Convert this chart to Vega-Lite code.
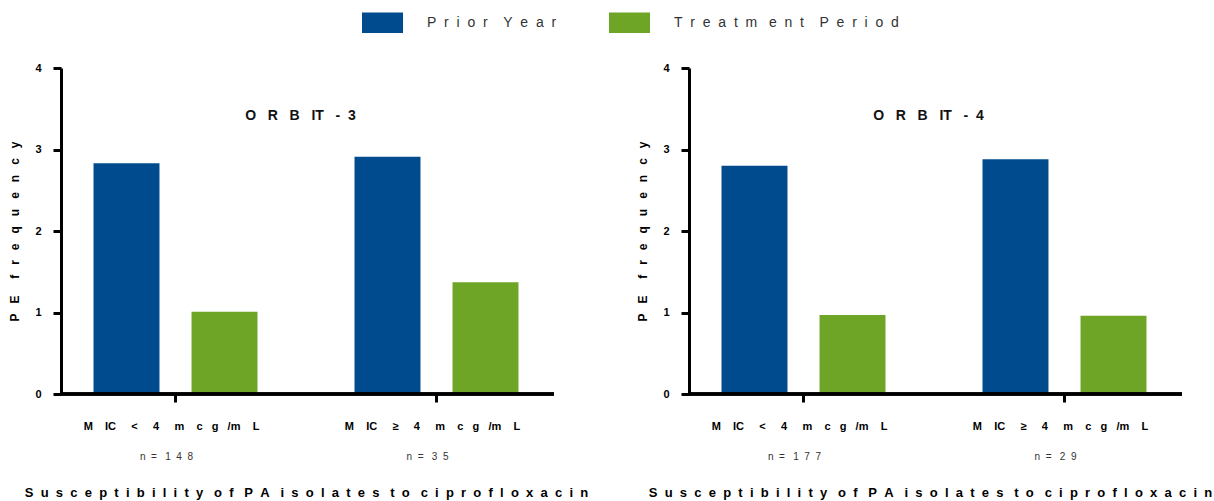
{
  "$schema": "https://vega.github.io/schema/vega-lite/v6.json",
  "background": "white",
  "padding": {"left": 8, "top": 2, "right": 5, "bottom": 5},
  "datasets": {
    "pe": [
      {"trial": "ORBIT-3", "mic": "MIC < 4 mcg/mL", "period": "Prior Year", "pe": 2.83, "n": 148},
      {"trial": "ORBIT-3", "mic": "MIC < 4 mcg/mL", "period": "Treatment Period", "pe": 1.01, "n": 148},
      {"trial": "ORBIT-3", "mic": "MIC ≥ 4 mcg/mL", "period": "Prior Year", "pe": 2.91, "n": 35},
      {"trial": "ORBIT-3", "mic": "MIC ≥ 4 mcg/mL", "period": "Treatment Period", "pe": 1.37, "n": 35},
      {"trial": "ORBIT-4", "mic": "MIC < 4 mcg/mL", "period": "Prior Year", "pe": 2.8, "n": 177},
      {"trial": "ORBIT-4", "mic": "MIC < 4 mcg/mL", "period": "Treatment Period", "pe": 0.97, "n": 177},
      {"trial": "ORBIT-4", "mic": "MIC ≥ 4 mcg/mL", "period": "Prior Year", "pe": 2.88, "n": 29},
      {"trial": "ORBIT-4", "mic": "MIC ≥ 4 mcg/mL", "period": "Treatment Period", "pe": 0.96, "n": 29}
    ]
  },
  "data": {"name": "pe"},
  "spacing": 135,
  "bounds": "flush",
  "resolve": {"scale": {"color": "shared"}, "legend": {"color": "shared"}},
  "hconcat": [
    {
      "width": 493,
      "height": 326,
      "title": {"text": "O\u00a0\u00a0\u00a0R\u00a0\u00a0\u00a0B\u00a0\u00a0\u00a0IT\u00a0\u00a0\u00a0-\u00a0\u00a03", "offset": -61, "dx": -7},
      "transform": [{"filter": "datum.trial === 'ORBIT-3'"}],
      "layer": [
        {
          "mark": {"type": "bar"},
          "encoding": {
            "x": {"field": "mic", "type": "nominal", "sort": ["MIC < 4 mcg/mL", "MIC ≥ 4 mcg/mL"],
                  "scale": {"paddingInner": 0, "paddingOuter": 0, "range": [-16, 506]},
                  "axis": {"domain": false,
                           "title": "S\u00a0\u00a0u\u00a0\u00a0s\u00a0\u00a0c\u00a0\u00a0e\u00a0\u00a0p\u00a0\u00a0t\u00a0\u00a0i\u00a0\u00a0b\u00a0\u00a0i\u00a0\u00a0l\u00a0\u00a0i\u00a0\u00a0t\u00a0\u00a0y\u00a0\u00a0\u00a0o\u00a0\u00a0f\u00a0\u00a0\u00a0P\u00a0\u00a0A\u00a0\u00a0\u00a0i\u00a0\u00a0s\u00a0\u00a0o\u00a0\u00a0l\u00a0\u00a0a\u00a0\u00a0t\u00a0\u00a0e\u00a0\u00a0s\u00a0\u00a0\u00a0t\u00a0\u00a0o\u00a0\u00a0\u00a0c\u00a0\u00a0i\u00a0\u00a0p\u00a0\u00a0r\u00a0\u00a0o\u00a0\u00a0f\u00a0\u00a0l\u00a0\u00a0o\u00a0\u00a0x\u00a0\u00a0a\u00a0\u00a0c\u00a0\u00a0i\u00a0\u00a0n",
                           "labelExpr": "datum.value === 'MIC < 4 mcg/mL' ? 'M\u00a0\u00a0\u00a0\u00a0IC\u00a0\u00a0\u00a0\u00a0\u00a0<\u00a0\u00a0\u00a0\u00a0\u00a04\u00a0\u00a0\u00a0\u00a0\u00a0m\u00a0\u00a0\u00a0\u00a0c\u00a0\u00a0\u00a0g\u00a0\u00a0\u00a0/m\u00a0\u00a0\u00a0\u00a0L' : 'M\u00a0\u00a0\u00a0\u00a0IC\u00a0\u00a0\u00a0\u00a0\u00a0≥\u00a0\u00a0\u00a0\u00a0\u00a04\u00a0\u00a0\u00a0\u00a0\u00a0m\u00a0\u00a0\u00a0\u00a0c\u00a0\u00a0\u00a0g\u00a0\u00a0\u00a0/m\u00a0\u00a0\u00a0\u00a0L'"}},
            "xOffset": {"field": "period", "type": "nominal", "sort": ["Prior Year", "Treatment Period"],
                        "scale": {"paddingInner": 0.327, "paddingOuter": 0.495}},
            "y": {"field": "pe", "type": "quantitative", "scale": {"domain": [0, 4], "nice": false},
                  "axis": {"title": "P\u00a0\u00a0\u00a0E\u00a0\u00a0\u00a0\u00a0\u00a0f\u00a0\u00a0\u00a0r\u00a0\u00a0\u00a0e\u00a0\u00a0\u00a0q\u00a0\u00a0\u00a0u\u00a0\u00a0\u00a0e\u00a0\u00a0\u00a0n\u00a0\u00a0\u00a0c\u00a0\u00a0\u00a0y",
                           "values": [0, 0.5, 1, 1.5, 2, 2.5, 3, 3.5, 4], "format": "d",
                           "labelExpr": "datum.value % 1 === 0 ? datum.label : ''",
                           "tickSize": {"condition": {"test": "datum.value % 1 !== 0", "value": 4}, "value": 8}}},
            "color": {"field": "period", "type": "nominal",
                      "scale": {"domain": ["Prior Year", "Treatment Period"], "range": ["#004B8E", "#6FA526"]},
                      "legend": {"orient": "none", "legendX": 301, "legendY": -66, "direction": "horizontal", "title": null,
                                 "symbolType": "M-1,-0.5H1V0.5H-1Z", "symbolSize": 1681, "symbolStrokeWidth": 0, "symbolOpacity": 1,
                                 "labelExpr": "datum.value === 'Prior Year' ? 'P\u00a0\u00a0r\u00a0\u00a0i\u00a0\u00a0o\u00a0\u00a0r\u00a0\u00a0\u00a0\u00a0Y\u00a0\u00a0e\u00a0\u00a0a\u00a0\u00a0r' : 'T\u00a0\u00a0r\u00a0\u00a0e\u00a0\u00a0a\u00a0\u00a0t\u00a0\u00a0m\u00a0\u00a0\u00a0e\u00a0\u00a0n\u00a0\u00a0t\u00a0\u00a0\u00a0\u00a0P\u00a0\u00a0e\u00a0\u00a0r\u00a0\u00a0i\u00a0\u00a0o\u00a0\u00a0d'",
                                 "labelFontSize": 14, "labelFont": "Liberation Sans", "labelColor": "#333333", "labelOffset": 24, "columnPadding": 52, "labelLimit": 400}}
          }
        },
        {
          "mark": {"type": "rule", "color": "#000000", "strokeWidth": 3},
          "encoding": {"y": {"datum": 0, "type": "quantitative"}}
        },
        {
          "transform": [
            {"filter": "datum.period === 'Prior Year'"},
            {"calculate": "'n\u00a0\u00a0=\u00a0\u00a0\u00a0' + join(split(toString(datum.n), ''), '\u00a0\u00a0')", "as": "nlabel"}
          ],
          "mark": {"type": "text", "font": "Liberation Sans", "fontSize": 10, "color": "#333333", "baseline": "middle", "dx": -9},
          "encoding": {
            "x": {"field": "mic", "type": "nominal", "sort": ["MIC < 4 mcg/mL", "MIC ≥ 4 mcg/mL"]},
            "y": {"datum": -0.77, "type": "quantitative"},
            "text": {"field": "nlabel"}
          }
        }
      ]
    },
    {
      "width": 493,
      "height": 326,
      "title": {"text": "O\u00a0\u00a0\u00a0R\u00a0\u00a0\u00a0B\u00a0\u00a0\u00a0IT\u00a0\u00a0\u00a0-\u00a0\u00a04", "offset": -61, "dx": -7},
      "transform": [{"filter": "datum.trial === 'ORBIT-4'"}],
      "layer": [
        {
          "mark": {"type": "bar"},
          "encoding": {
            "x": {"field": "mic", "type": "nominal", "sort": ["MIC < 4 mcg/mL", "MIC ≥ 4 mcg/mL"],
                  "scale": {"paddingInner": 0, "paddingOuter": 0, "range": [-16, 506]},
                  "axis": {"domain": false, "titleX": 241,
                           "title": "S\u00a0\u00a0u\u00a0\u00a0s\u00a0\u00a0c\u00a0\u00a0e\u00a0\u00a0p\u00a0\u00a0t\u00a0\u00a0i\u00a0\u00a0b\u00a0\u00a0i\u00a0\u00a0l\u00a0\u00a0i\u00a0\u00a0t\u00a0\u00a0y\u00a0\u00a0\u00a0o\u00a0\u00a0f\u00a0\u00a0\u00a0P\u00a0\u00a0A\u00a0\u00a0\u00a0i\u00a0\u00a0s\u00a0\u00a0o\u00a0\u00a0l\u00a0\u00a0a\u00a0\u00a0t\u00a0\u00a0e\u00a0\u00a0s\u00a0\u00a0\u00a0t\u00a0\u00a0o\u00a0\u00a0\u00a0c\u00a0\u00a0i\u00a0\u00a0p\u00a0\u00a0r\u00a0\u00a0o\u00a0\u00a0f\u00a0\u00a0l\u00a0\u00a0o\u00a0\u00a0x\u00a0\u00a0a\u00a0\u00a0c\u00a0\u00a0i\u00a0\u00a0n",
                           "labelExpr": "datum.value === 'MIC < 4 mcg/mL' ? 'M\u00a0\u00a0\u00a0\u00a0IC\u00a0\u00a0\u00a0\u00a0\u00a0<\u00a0\u00a0\u00a0\u00a0\u00a04\u00a0\u00a0\u00a0\u00a0\u00a0m\u00a0\u00a0\u00a0\u00a0c\u00a0\u00a0\u00a0g\u00a0\u00a0\u00a0/m\u00a0\u00a0\u00a0\u00a0L' : 'M\u00a0\u00a0\u00a0\u00a0IC\u00a0\u00a0\u00a0\u00a0\u00a0≥\u00a0\u00a0\u00a0\u00a0\u00a04\u00a0\u00a0\u00a0\u00a0\u00a0m\u00a0\u00a0\u00a0\u00a0c\u00a0\u00a0\u00a0g\u00a0\u00a0\u00a0/m\u00a0\u00a0\u00a0\u00a0L'"}},
            "xOffset": {"field": "period", "type": "nominal", "sort": ["Prior Year", "Treatment Period"],
                        "scale": {"paddingInner": 0.327, "paddingOuter": 0.495}},
            "y": {"field": "pe", "type": "quantitative", "scale": {"domain": [0, 4], "nice": false},
                  "axis": {"title": "P\u00a0\u00a0\u00a0E\u00a0\u00a0\u00a0\u00a0\u00a0f\u00a0\u00a0\u00a0r\u00a0\u00a0\u00a0e\u00a0\u00a0\u00a0q\u00a0\u00a0\u00a0u\u00a0\u00a0\u00a0e\u00a0\u00a0\u00a0n\u00a0\u00a0\u00a0c\u00a0\u00a0\u00a0y",
                           "values": [0, 0.5, 1, 1.5, 2, 2.5, 3, 3.5, 4], "format": "d",
                           "labelExpr": "datum.value % 1 === 0 ? datum.label : ''",
                           "tickSize": {"condition": {"test": "datum.value % 1 !== 0", "value": 4}, "value": 8}}},
            "color": {"field": "period", "type": "nominal",
                      "scale": {"domain": ["Prior Year", "Treatment Period"], "range": ["#004B8E", "#6FA526"]},
                      "legend": {"orient": "none", "legendX": 301, "legendY": -66, "direction": "horizontal", "title": null,
                                 "symbolType": "M-1,-0.5H1V0.5H-1Z", "symbolSize": 1681, "symbolStrokeWidth": 0, "symbolOpacity": 1,
                                 "labelExpr": "datum.value === 'Prior Year' ? 'P\u00a0\u00a0r\u00a0\u00a0i\u00a0\u00a0o\u00a0\u00a0r\u00a0\u00a0\u00a0\u00a0Y\u00a0\u00a0e\u00a0\u00a0a\u00a0\u00a0r' : 'T\u00a0\u00a0r\u00a0\u00a0e\u00a0\u00a0a\u00a0\u00a0t\u00a0\u00a0m\u00a0\u00a0\u00a0e\u00a0\u00a0n\u00a0\u00a0t\u00a0\u00a0\u00a0\u00a0P\u00a0\u00a0e\u00a0\u00a0r\u00a0\u00a0i\u00a0\u00a0o\u00a0\u00a0d'",
                                 "labelFontSize": 14, "labelFont": "Liberation Sans", "labelColor": "#333333", "labelOffset": 24, "columnPadding": 52, "labelLimit": 400}}
          }
        },
        {
          "mark": {"type": "rule", "color": "#000000", "strokeWidth": 3},
          "encoding": {"y": {"datum": 0, "type": "quantitative"}}
        },
        {
          "transform": [
            {"filter": "datum.period === 'Prior Year'"},
            {"calculate": "'n\u00a0\u00a0=\u00a0\u00a0\u00a0' + join(split(toString(datum.n), ''), '\u00a0\u00a0')", "as": "nlabel"}
          ],
          "mark": {"type": "text", "font": "Liberation Sans", "fontSize": 10, "color": "#333333", "baseline": "middle", "dx": -9},
          "encoding": {
            "x": {"field": "mic", "type": "nominal", "sort": ["MIC < 4 mcg/mL", "MIC ≥ 4 mcg/mL"]},
            "y": {"datum": -0.77, "type": "quantitative"},
            "text": {"field": "nlabel"}
          }
        }
      ]
    }
  ],
  "config": {
    "font": "Liberation Sans",
    "view": {"stroke": null},
    "title": {"font": "Liberation Sans", "fontSize": 14, "fontWeight": "bold", "color": "#111111", "anchor": "middle"},
    "axis": {
      "domainColor": "#000000", "domainWidth": 3, "tickColor": "#000000", "tickWidth": 3,
      "labelFont": "Liberation Sans", "labelFontWeight": "bold", "labelColor": "#000000",
      "titleFont": "Liberation Sans", "titleFontWeight": "bold", "titleColor": "#000000",
      "grid": false
    },
    "axisX": {"labelAngle": 0, "tickSize": 8, "labelFontSize": 11, "labelPadding": 18, "labelOffset": -4, "titleFontSize": 13, "titlePadding": 55, "labelLimit": 400},
    "axisY": {"labelFontSize": 11, "labelPadding": 12, "titleFontSize": 12, "titlePadding": 13}
  }
}
